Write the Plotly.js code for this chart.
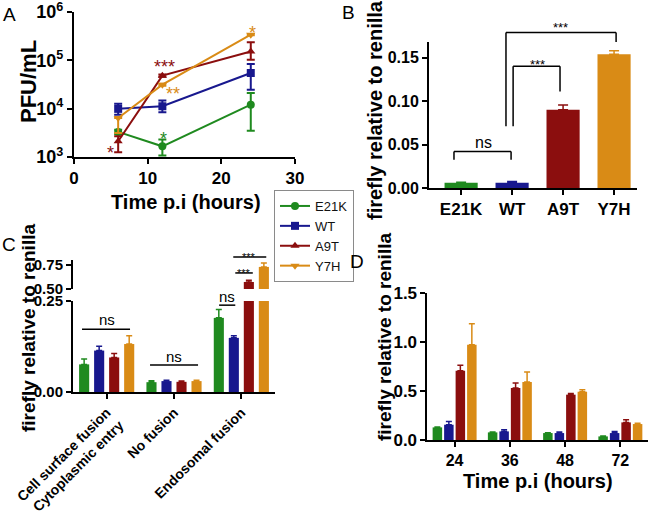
<!DOCTYPE html>
<html>
<head>
<meta charset="utf-8">
<script src="https://cdn.plot.ly/plotly-3.0.1.min.js"></script>
<style>body{margin:0;background:#fff}#fig{width:650px;height:511px}</style>
</head>
<body>
<div id="fig"></div>
<script>
var strains = ['E21K', 'WT', 'A9T', 'Y7H'];
var colors = ['#1f8a1f', '#18188e', '#8b0e0e', '#d98b16'];
var symbols = ['circle', 'square', 'triangle-up', 'triangle-down'];
var FONT = 'Liberation Sans, Arial, sans-serif';

// A: virus titre over time (PFU/mL)
var timeA = [6, 12, 24];
var pfuE21K = [3300, 1660, 12100];
var pfuE21KUp = [350, 630, 9000];
var pfuE21KDown = [350, 590, 8600];
var pfuWT = [9900, 11200, 54700];
var pfuWTUp = [2800, 3600, 29300];
var pfuWTDown = [2400, 2800, 30000];
var pfuA9T = [2110, 48200, 153000];
var pfuA9TUp = [570, 2500, 83000];
var pfuA9TDown = [860, 2500, 50000];
var pfuY7H = [6410, 31400, 340000];
var pfuY7HUp = [0, 1500, 10000];
var pfuY7HDown = [3270, 1500, 10000];
var tickA = [1e3, 1e4, 1e5, 1e6];
var tickAText = ['10<sup>3</sup>', '10<sup>4</sup>', '10<sup>5</sup>', '10<sup>6</sup>'];

// B: luciferase, one value per strain
var lucB = [0.006, 0.006, 0.090, 0.154];
var lucBErr = [0.0005, 0.0015, 0.0056, 0.004];

// C: entry route
var routes = ['Cell surface fusion<br>Cytoplasmic entry', 'No fusion', 'Endosomal fusion'];
var routeE21K = [0.076, 0.027, 0.204];
var routeE21KErr = [0.015, 0.004, 0.023];
var routeWT = [0.114, 0.030, 0.149];
var routeWTErr = [0.012, 0.002, 0.006];
var routeA9T = [0.095, 0.028, 0.573];
var routeA9TErr = [0.011, 0.002, 0.017];
var routeY7H = [0.132, 0.030, 0.730];
var routeY7HErr = [0.023, 0.002, 0.040];

// D: luciferase over time
var timeD = ['24', '36', '48', '72'];
var lucDE21K = [0.129, 0.078, 0.071, 0.037];
var lucDE21KErr = [0.005, 0.003, 0.003, 0.003];
var lucDWT = [0.156, 0.088, 0.071, 0.071];
var lucDWTErr = [0.034, 0.017, 0.011, 0.017];
var lucDA9T = [0.707, 0.531, 0.463, 0.180];
var lucDA9TErr = [0.055, 0.051, 0.013, 0.027];
var lucDY7H = [0.973, 0.592, 0.493, 0.163];
var lucDY7HErr = [0.214, 0.102, 0.021, 0.007];

var pfu = [pfuE21K, pfuWT, pfuA9T, pfuY7H];
var pfuUp = [pfuE21KUp, pfuWTUp, pfuA9TUp, pfuY7HUp];
var pfuDown = [pfuE21KDown, pfuWTDown, pfuA9TDown, pfuY7HDown];
var route = [routeE21K, routeWT, routeA9T, routeY7H];
var routeErr = [routeE21KErr, routeWTErr, routeA9TErr, routeY7HErr];
var lucD = [lucDE21K, lucDWT, lucDA9T, lucDY7H];
var lucDErr = [lucDE21KErr, lucDWTErr, lucDA9TErr, lucDY7HErr];

function zeros(n) { return new Array(n).fill(0); }
function upErr(arr, color, w) {
  return {type: 'data', symmetric: false, array: arr, arrayminus: zeros(arr.length),
          color: color, thickness: 1.5, width: w};
}

var data = [];
for (var i = 0; i < 4; i++) {
  data.push({
    x: timeA, y: pfu[i], name: strains[i], type: 'scatter', mode: 'lines+markers',
    xaxis: 'x', yaxis: 'y',
    line: {color: colors[i], width: 2},
    marker: {color: colors[i], symbol: symbols[i], size: 8},
    error_y: {type: 'data', symmetric: false, array: pfuUp[i], arrayminus: pfuDown[i],
              color: colors[i], thickness: 2, width: 4}
  });
}
for (var i = 0; i < 4; i++) {
  data.push({
    x: [strains[i]], y: [lucB[i]], type: 'bar', xaxis: 'x2', yaxis: 'y2', showlegend: false,
    width: 0.65, offset: -0.325, marker: {color: colors[i]},
    error_y: upErr([lucBErr[i]], colors[i], 5)
  });
}
// C, lower and upper part of the broken axis
['y3', 'y5'].forEach(function(ya) {
  for (var i = 0; i < 4; i++) {
    data.push({
      x: routes, y: route[i], type: 'bar', xaxis: 'x3', yaxis: ya, showlegend: false,
      width: 0.15, offset: (i - 1.5) * 0.223 - 0.075, marker: {color: colors[i]},
      error_y: upErr(routeErr[i], colors[i], 3)
    });
  }
});
for (var i = 0; i < 4; i++) {
  data.push({
    x: timeD, y: lucD[i], type: 'bar', xaxis: 'x4', yaxis: 'y4', showlegend: false,
    width: 0.172, offset: (i - 1.5) * 0.208 - 0.086, marker: {color: colors[i]},
    error_y: upErr(lucDErr[i], colors[i], 3)
  });
}

function axis(extra) {
  var a = {showline: true, linecolor: '#000', linewidth: 2, ticks: 'outside', ticklen: 5,
           tickwidth: 2, tickcolor: '#000', showgrid: false, zeroline: false, fixedrange: true,
           ticklabeloverflow: 'allow',
           tickfont: {family: FONT, size: 16, color: '#000', weight: 'bold'}};
  for (var k in extra) a[k] = extra[k];
  return a;
}
function tf(size) { return {family: FONT, size: size, color: '#000', weight: 'bold'}; }

var xA = axis({domain: [0.1138, 0.4538], range: [0, 30], tickvals: [0, 10, 20, 30], anchor: 'y', tickfont: tf(17)});
var yA = axis({domain: [0.6928, 0.9765], type: 'log', range: [2.9995, 6.0005], tickvals: tickA, ticktext: tickAText,
               anchor: 'x', tickfont: tf(18)});
var xB = axis({domain: [0.66, 0.98], range: [-0.63, 3.45], type: 'category', anchor: 'y2', tickfont: tf(17)});
var yB = axis({domain: [0.6321, 0.9178], range: [0, 0.168], tickvals: [0, 0.05, 0.1, 0.15],
               tickformat: '.2f', anchor: 'x2'});
var xC = axis({domain: [0.1123, 0.4231], range: [-0.5, 2.5], type: 'category', anchor: 'y3',
               tickangle: -45, tickfont: tf(14)});
var yC = axis({domain: [0.2329, 0.4110], range: [0, 0.2505], tickvals: [0, 0.25], tickformat: '.2f',
               anchor: 'x3', tickfont: tf(15)});
var yCtop = axis({domain: [0.4344, 0.4912], range: [0.4995, 0.802], tickvals: [0.5, 0.75], tickformat: '.2f',
                  anchor: 'x3', tickfont: tf(15)});
var xD = axis({domain: [0.6569, 0.9969], range: [-0.5, 3.5], type: 'category', anchor: 'y4',
               linewidth: 1.5, tickfont: tf(16)});
var yD = axis({domain: [0.1389, 0.4266], range: [0, 1.5005], tickvals: [0, 0.5, 1, 1.5], tickformat: '.1f',
               anchor: 'x4', linewidth: 1.5, tickfont: tf(17)});

// value -> paper fraction along an axis (log axis values given as log10)
function P(ax, v) {
  return ax.domain[0] + (v - ax.range[0]) / (ax.range[1] - ax.range[0]) * (ax.domain[1] - ax.domain[0]);
}
function seg(xa, ya, x0, y0, x1, y1) {
  return {type: 'line', xref: 'paper', yref: 'paper', x0: P(xa, x0), y0: P(ya, y0),
          x1: P(xa, x1), y1: P(ya, y1), line: {color: '#000', width: 1.5}};
}
function bracket(xa, ya, xl, yl, xr, yr, top) {
  return [seg(xa, ya, xl, yl, xl, top), seg(xa, ya, xl, top, xr, top), seg(xa, ya, xr, top, xr, yr)];
}
function note(xa, ya, x, y, text, size, color) {
  var star = text.indexOf('*') >= 0;
  return {xref: 'paper', yref: 'paper', x: P(xa, x), y: P(ya, y), text: text, showarrow: false,
          xanchor: 'center', yanchor: 'middle', yshift: star ? -size * 0.3 : 0,
          font: {family: FONT, size: size, color: color || '#000'}};
}
function label(px, py, text, size, bold, angle) {
  return {xref: 'paper', yref: 'paper', x: px / 650, y: 1 - py / 511, text: text, showarrow: false,
          xanchor: 'center', yanchor: 'middle', textangle: angle || 0,
          font: {family: FONT, size: size, color: '#000', weight: bold ? 'bold' : 'normal'}};
}

var shapes = [].concat(
  bracket(xB, yB, -0.14, 0.0325, 0.98, 0.0325, 0.042),
  bracket(xB, yB, 1.02, 0.071, 1.94, 0.111, 0.140),
  bracket(xB, yB, 0.88, 0.071, 3.04, 0.168, 0.179),
  [seg(xC, yC, -0.366, 0.173, 0.347, 0.173),
   seg(xC, yC, 0.644, 0.074, 1.357, 0.074),
   seg(xC, yC, 1.67, 0.239, 1.91, 0.239),
   seg(xC, yCtop, 1.91, 0.667, 2.17, 0.667),
   seg(xC, yCtop, 1.88, 0.833, 2.37, 0.833)]
);

var annotations = [
  label(9, 14, 'A', 19), label(348, 12, 'B', 19), label(9, 245, 'C', 19), label(357, 261, 'D', 19),
  label(29, 81, 'PFU/mL', 22, true, -90),
  label(186, 202, 'Time p.i (hours)', 20, true),
  label(375, 110, 'firefly relative to renilla', 20, true, -90),
  label(28, 328, 'firefly relative to renilla', 19, true, -90),
  label(384, 337, 'firefly relative to renilla', 19, true, -90),
  label(538, 481, 'Time p.i (hours)', 20, true),
  note(xA, yA, 4.9, 3.19, '*', 18, colors[2]),
  note(xA, yA, 12.35, 4.97, '***', 18, colors[2]),
  note(xA, yA, 13.4, 4.41, '**', 18, colors[3]),
  note(xA, yA, 12.1, 3.48, '*', 18, colors[0]),
  note(xA, yA, 24.2, 5.67, '*', 18, colors[3]),
  note(xB, yB, 0.43, 0.052, 'ns', 16),
  note(xB, yB, 1.49, 0.147, '***', 13),
  note(xB, yB, 1.94, 0.189, '***', 13),
  note(xC, yC, 0.0, 0.200, 'ns', 15),
  note(xC, yC, 1.0, 0.097, 'ns', 15),
  note(xC, yC, 1.79, 0.262, 'ns', 15),
  note(xC, yCtop, 2.04, 0.70, '***', 11),
  note(xC, yCtop, 2.12, 0.865, '***', 11)
];

var layout = {
  width: 650, height: 511,
  margin: {l: 0, r: 0, t: 0, b: 0},
  paper_bgcolor: '#fff', plot_bgcolor: 'rgba(0,0,0,0)',
  font: {family: FONT, color: '#000'},
  barmode: 'group',
  showlegend: true,
  legend: {x: 274 / 650, y: 1 - 190 / 511, xanchor: 'left', yanchor: 'top',
           bordercolor: '#8a8a8a', borderwidth: 1, bgcolor: '#fff',
           font: {family: FONT, size: 13, color: '#111'}, itemwidth: 30, tracegroupgap: 0},
  xaxis: xA, yaxis: yA,
  xaxis2: xB, yaxis2: yB,
  xaxis3: xC, yaxis3: yC, yaxis5: yCtop,
  xaxis4: xD, yaxis4: yD,
  shapes: shapes,
  annotations: annotations
};

Plotly.newPlot('fig', data, layout, {displayModeBar: false, staticPlot: true});
</script>
</body>
</html>
